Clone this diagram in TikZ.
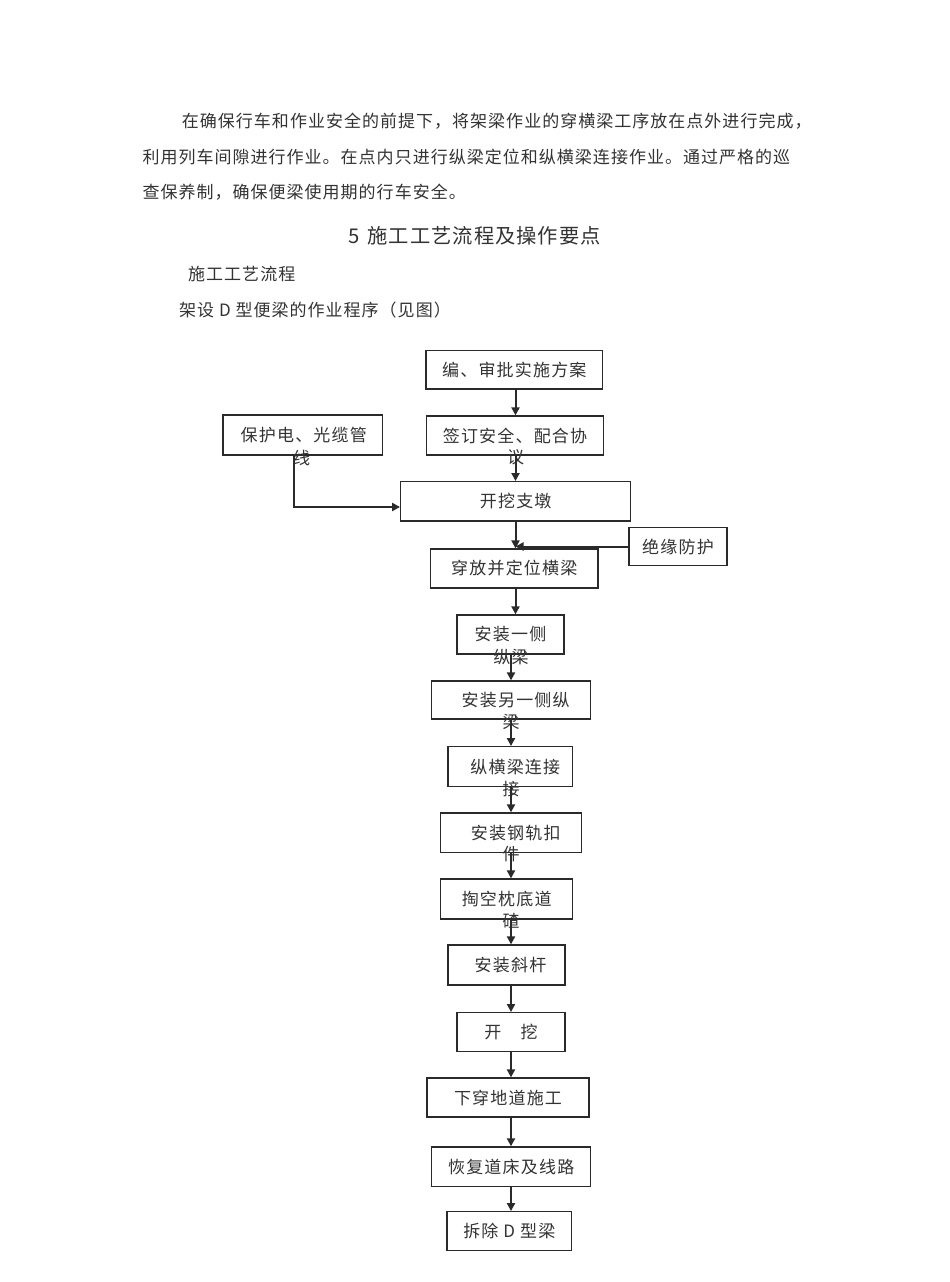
\documentclass[tikz,border=0pt]{standalone}
\usepackage{fontspec}
\setmainfont{Noto Sans CJK SC}
\newfontfamily\bodyfont[LetterSpace=6]{Noto Sans CJK SC}
\newfontfamily\headfont[LetterSpace=5]{Noto Sans CJK SC}
\newfontfamily\boxfont[LetterSpace=7]{Noto Sans CJK SC}
\usetikzlibrary{arrows.meta}
\definecolor{ink}{HTML}{333333}
\definecolor{edge}{HTML}{2A2A2A}
\begin{document}
\begin{tikzpicture}[x=1pt,y=-1pt,
  body/.style={anchor=west,inner sep=0pt,text=ink,font=\bodyfont\fontsize{17}{19}\selectfont},
  head/.style={anchor=west,inner sep=0pt,text=ink,font=\headfont\fontsize{20.3}{22}\selectfont},
  box/.style={draw=edge,line width=1.3pt,inner sep=0pt,text=ink,font=\boxfont\fontsize{17}{19}\selectfont},
  ovf/.style={inner sep=0pt,text=ink,font=\boxfont\fontsize{17}{19}\selectfont},
  arr/.style={draw=edge,line width=2pt,-{Triangle[length=8pt,width=8pt]}}]
\useasboundingbox[fill=white] (0,0) rectangle (950,1282);

% text above the chart
\node[body] (p1) at (181.7,121) {在确保行车和作业安全的前提下，将架梁作业的穿横梁工序放在点外进行完成，};
\node[body] (p2) at (142.3,157) {利用列车间隙进行作业。在点内只进行纵梁定位和纵横梁连接作业。通过严格的巡};
\node[body] (p3) at (142.3,192) {查保养制，确保便梁使用期的行车安全。};
\node[head] (h1) at (348,236) {5\hspace{8pt}施工工艺流程及操作要点};
\node[body] (h2) at (188,274) {施工工艺流程};
\node[body] (h3) at (179,310) {架设 D 型便梁的作业程序（见图）};

% main line positions
\coordinate (mx) at (515.5,0);
\coordinate (lx) at (511,0);

% boxes
\node[box,minimum width=176.7pt,minimum height=38.3pt] (b1) at (514.3,369.9) {编、审批实施方案};
\node[box,minimum width=176.7pt,minimum height=39pt] (b2) at (515,435.5) {签订安全、配合协};
\node[ovf] (b2x) at ([yshift=-2pt]b2.south -| mx) {议};
\node[box,minimum width=159.7pt,minimum height=40pt] (b3) at (302.8,435) {\hspace*{2pt}保护电、光缆管};
\node[ovf] (b3x) at ([yshift=-2pt]b3.south -| 301.7,0) {线};
\node[box,minimum width=230pt,minimum height=39.3pt] (b4) at (515.7,501.3) {开挖支墩};
\node[box,minimum width=98pt,minimum height=38pt] (b5) at (678,546.5) {绝缘防护};
\node[box,minimum width=167.3pt,minimum height=39pt] (b6) at (514.3,568.5) {穿放并定位横梁};
\node[box,minimum width=107pt,minimum height=39pt] (b7) at (510.5,634.5) {安装一侧};
\node[ovf] (b7x) at ([yshift=-2.5pt]b7.south -| lx) {纵梁};
\node[box,minimum width=159pt,minimum height=38pt] (b8) at (511.2,700) {\hspace*{9pt}安装另一侧纵};
\node[ovf] (b8x) at ([yshift=-2.5pt]b8.south -| lx) {梁};
\node[box,minimum width=124.7pt,minimum height=40pt] (b9) at (510.3,766.7) {\hspace*{10pt}纵横梁连接};
\node[ovf] (b9x) at ([yshift=-1.5pt]b9.south -| lx) {接};
\node[box,minimum width=141pt,minimum height=39.7pt] (b10) at (511.2,832.8) {\hspace*{9pt}安装钢轨扣};
\node[ovf] (b10x) at ([yshift=-0.5pt]b10.south -| lx) {件};
\node[box,minimum width=132pt,minimum height=40pt] (b11) at (506.7,899) {掏空枕底道};
\node[ovf] (b11x) at ([yshift=-1pt]b11.south -| lx) {碴};
\node[box,minimum width=117pt,minimum height=40pt] (b12) at (506.5,965) {\hspace*{8pt}安装斜杆};
\node[box,minimum width=108pt,minimum height=39pt] (b13) at (511,1032.2) {开　挖};
\node[box,minimum width=162pt,minimum height=39pt] (b14) at (508,1097.5) {下穿地道施工};
\node[box,minimum width=159pt,minimum height=39.7pt] (b15) at (511.2,1166.8) {恢复道床及线路};
\node[box,minimum width=124.7pt,minimum height=39pt] (b16) at (509.3,1231.2) {拆除 D 型梁};

% connectors
\draw[arr] (b1.south -| mx) -- (b2.north -| mx);
\draw[arr] (b2.south -| mx) -- (b4.north -| mx);
\coordinate (j1) at (294,507);
\draw[arr] (b3.south -| j1) -- (j1) -- (j1 -| b4.west);
\draw[arr] (b4.south -| mx) -- (b6.north -| mx);
\draw[arr] (b5.west) -- (b5.west -| mx);
\draw[arr] (b6.south -| mx) -- (b7.north -| mx);
\draw[arr] (b7.south -| lx) -- (b8.north -| lx);
\draw[arr] (b8.south -| lx) -- (b9.north -| lx);
\draw[arr] (b9.south -| lx) -- (b10.north -| lx);
\draw[arr] (b10.south -| lx) -- (b11.north -| lx);
\draw[arr] (b11.south -| lx) -- (b12.north -| lx);
\draw[arr] (b12.south -| lx) -- (b13.north -| lx);
\draw[arr] (b13.south -| lx) -- (b14.north -| lx);
\draw[arr] (b14.south -| lx) -- (b15.north -| lx);
\draw[arr] (b15.south -| lx) -- (b16.north -| lx);
\end{tikzpicture}
\end{document}
